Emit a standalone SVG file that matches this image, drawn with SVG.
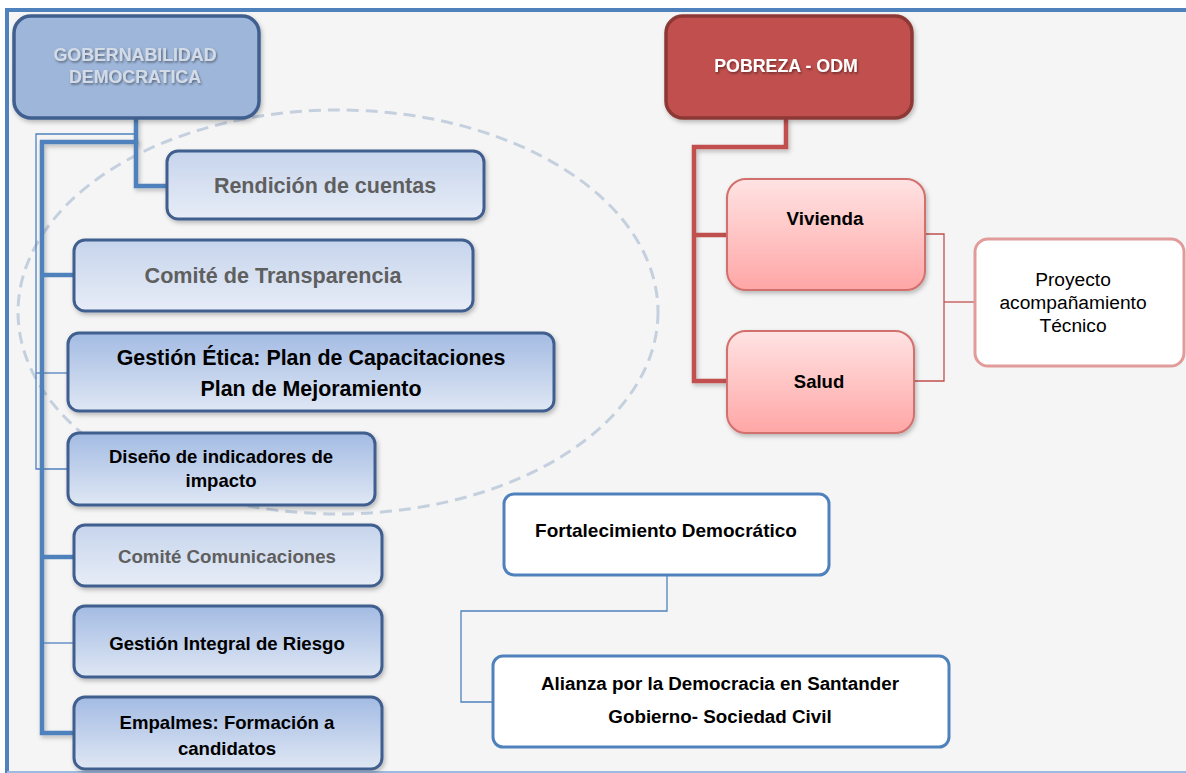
<svg xmlns="http://www.w3.org/2000/svg" width="1186" height="773" viewBox="0 0 1186 773">
<defs>
<linearGradient id="gLight" x1="0" y1="0" x2="0" y2="1"><stop offset="0" stop-color="#c6d4ec"/><stop offset="1" stop-color="#e7edf7"/></linearGradient>
<linearGradient id="gDark" x1="0" y1="0" x2="0" y2="1"><stop offset="0" stop-color="#a3bbe3"/><stop offset="1" stop-color="#dfe7f4"/></linearGradient>
<linearGradient id="gPink" x1="0" y1="0" x2="0" y2="1"><stop offset="0" stop-color="#ffe3e3"/><stop offset="1" stop-color="#ffa6a6"/></linearGradient>
<filter id="sh" x="-10%" y="-10%" width="130%" height="140%"><feDropShadow dx="1.5" dy="2.5" stdDeviation="2" flood-color="#000" flood-opacity="0.25"/></filter>
<filter id="tsh" x="-10%" y="-20%" width="130%" height="160%"><feDropShadow dx="1" dy="1.5" stdDeviation="1" flood-color="#000" flood-opacity="0.45"/></filter>
</defs>
<style>
.t{font-family:"Liberation Sans",Arial,sans-serif;font-weight:bold;text-anchor:middle}
.n{font-family:"Liberation Sans",Arial,sans-serif;text-anchor:middle}
.grey{fill:#5f5f5f}
.blk{fill:#000}
.bl{stroke:#3f5f8f;stroke-width:3}
.cb{fill:none;stroke:#4f81bd;stroke-width:4.5}
.ct{fill:none;stroke:#4f81bd;stroke-width:1.3}
.cr{fill:none;stroke:#c0504d;stroke-width:4.5}
.crt{fill:none;stroke:#c0504d;stroke-width:1.3}
</style>
<rect x="0" y="0" width="1186" height="773" fill="#fff"/>
<rect x="7" y="10" width="1182" height="762" fill="#f5f5f5"/>
<line x1="7" y1="10" x2="1186" y2="10" stroke="#4f81bd" stroke-width="4"/>
<line x1="7" y1="8" x2="7" y2="773" stroke="#4f81bd" stroke-width="4"/>
<line x1="7" y1="772" x2="1186" y2="772" stroke="#9dbbe0" stroke-width="2"/>
<ellipse cx="338" cy="312" rx="320" ry="202" fill="none" stroke="#c5d0df" stroke-width="3" stroke-dasharray="12 7"/>
<g id="connectors">
<polyline class="ct" points="136,134 36,134 36,469 68,469"/>
<line class="ct" x1="36" y1="373" x2="68" y2="373"/>
<polyline class="cb" points="136,118 136,142 42,142 42,733 74,733" filter="url(#sh)"/>
<polyline class="cb" points="136,140 136,186 167,186" filter="url(#sh)"/>
<line class="cb" x1="42" y1="275" x2="74" y2="275"/>
<line class="cb" x1="42" y1="557" x2="74" y2="557"/>
<line class="ct" x1="42" y1="643" x2="74" y2="643"/>
<polyline class="cr" points="786,118 786,147 694,147 694,381 727,381" filter="url(#sh)"/>
<line class="cr" x1="694" y1="235" x2="727" y2="235"/>
<polyline class="crt" points="925,234 944,234 944,381 914,381"/>
<line class="crt" x1="944" y1="302" x2="975" y2="302"/>
<polyline class="ct" points="667,566 667,611 461,611 461,702 492,702"/>
</g>
<g id="gobernabilidad">
<rect x="14" y="16" width="245" height="102" rx="17" fill="#9db6da" stroke="#3f5f8f" stroke-width="3.5" filter="url(#sh)"/>
<text class="t" x="135" y="61" font-size="17.8" fill="#d3dbe6" filter="url(#tsh)">GOBERNABILIDAD</text>
<text class="t" x="135" y="83" font-size="17.8" fill="#d3dbe6" filter="url(#tsh)">DEMOCRATICA</text>
</g>
<g id="rendicion">
<rect x="167" y="151" width="317" height="68" rx="11" fill="url(#gLight)" class="bl" filter="url(#sh)"/>
<text class="t grey" x="325" y="193" font-size="21.5">Rendición de cuentas</text>
</g>
<g id="transparencia">
<rect x="74" y="240" width="399" height="71" rx="11" fill="url(#gLight)" class="bl" filter="url(#sh)"/>
<text class="t grey" x="273" y="283" font-size="21.6">Comité de Transparencia</text>
</g>
<g id="gestion-etica">
<rect x="68" y="333" width="486" height="78" rx="11" fill="url(#gDark)" class="bl" filter="url(#sh)"/>
<text class="t blk" x="311" y="365" font-size="21.4">Gestión Ética: Plan de Capacitaciones</text>
<text class="t blk" x="311" y="396" font-size="21.4">Plan de Mejoramiento</text>
</g>
<g id="diseno">
<rect x="68" y="433" width="307" height="72" rx="11" fill="url(#gDark)" class="bl" filter="url(#sh)"/>
<text class="t blk" x="221" y="463" font-size="18.5">Diseño de indicadores de</text>
<text class="t blk" x="221" y="487" font-size="18.5">impacto</text>
</g>
<g id="comunicaciones">
<rect x="74" y="525" width="308" height="61" rx="11" fill="url(#gLight)" class="bl" filter="url(#sh)"/>
<text class="t grey" x="227" y="563" font-size="18.7">Comité Comunicaciones</text>
</g>
<g id="riesgo">
<rect x="74" y="606" width="308" height="71" rx="11" fill="url(#gDark)" class="bl" filter="url(#sh)"/>
<text class="t blk" x="227" y="650" font-size="18.6">Gestión Integral de Riesgo</text>
</g>
<g id="empalmes">
<rect x="74" y="697" width="308" height="72" rx="11" fill="url(#gDark)" class="bl" filter="url(#sh)"/>
<text class="t blk" x="227" y="729" font-size="18.6">Empalmes: Formación a</text>
<text class="t blk" x="227" y="755" font-size="18.6">candidatos</text>
</g>
<g id="pobreza">
<rect x="666" y="16" width="246" height="102" rx="17" fill="#c0504d" stroke="#8c3836" stroke-width="3.5" filter="url(#sh)"/>
<text class="t" x="786" y="72" font-size="17.8" fill="#fff" filter="url(#tsh)">POBREZA - ODM</text>
</g>
<g id="vivienda">
<rect x="727" y="179" width="198" height="111" rx="19" fill="url(#gPink)" stroke="#d26f6d" stroke-width="2" filter="url(#sh)"/>
<text class="t blk" x="825" y="225" font-size="18.8">Vivienda</text>
</g>
<g id="salud">
<rect x="727" y="331" width="187" height="102" rx="19" fill="url(#gPink)" stroke="#d26f6d" stroke-width="2" filter="url(#sh)"/>
<text class="t blk" x="819" y="388" font-size="18.5">Salud</text>
</g>
<g id="proyecto">
<rect x="975" y="239" width="209" height="127" rx="13" fill="#fff" stroke="#e09b9a" stroke-width="3"/>
<text class="n blk" x="1073" y="286" font-size="19.2">Proyecto</text>
<text class="n blk" x="1073" y="309" font-size="19.2">acompañamiento</text>
<text class="n blk" x="1073" y="332" font-size="19.2">Técnico</text>
</g>
<g id="fortalecimiento">
<rect x="504" y="494" width="325" height="81" rx="10" fill="#fff" stroke="#4f81bd" stroke-width="3"/>
<text class="t blk" x="666" y="537" font-size="19">Fortalecimiento Democrático</text>
</g>
<g id="alianza">
<rect x="493" y="656" width="456" height="91" rx="10" fill="#fff" stroke="#4f81bd" stroke-width="3"/>
<text class="t blk" x="720" y="690" font-size="18.8">Alianza por la Democracia en Santander</text>
<text class="t blk" x="720" y="723" font-size="18.8">Gobierno- Sociedad Civil</text>
</g>
</svg>
